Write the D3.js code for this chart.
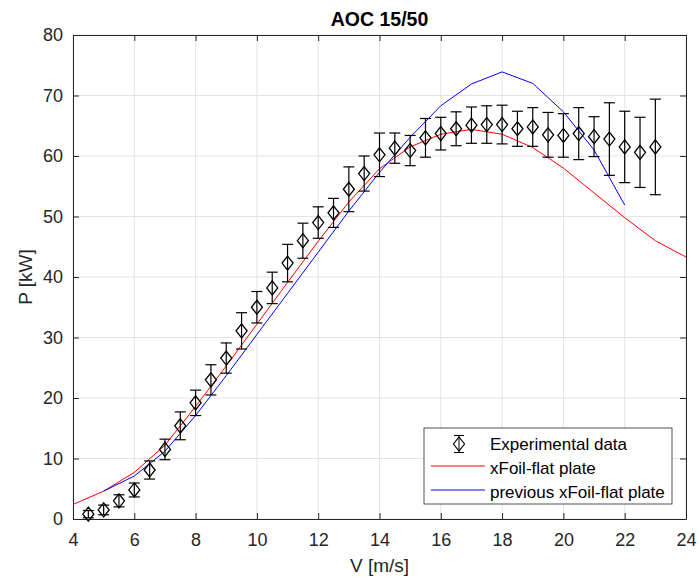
<!DOCTYPE html>
<html>
<head>
<meta charset="utf-8">
<script src="https://cdn.jsdelivr.net/npm/d3@7"></script>
<style>
  body { margin: 0; background: #fff; }
  svg { font-family: "Liberation Sans", Arial, sans-serif; }
  .axis text { fill: #262626; font-size: 18px; }
  .axis path, .axis line { stroke: #262626; }
</style>
</head>
<body>
<svg id="chart" width="699" height="578"></svg>
<script>
// experimental data
const expV = [4.5, 5, 5.5, 6, 6.5, 7, 7.5, 8, 8.5, 9, 9.5, 10, 10.5, 11, 11.5, 12, 12.5, 13, 13.5, 14,
              14.5, 15, 15.5, 16, 16.5, 17, 17.5, 18, 18.5, 19, 19.5, 20, 20.5, 21, 21.5, 22, 22.5, 23]
const expP = [0.8, 1.5, 3.0, 4.8, 8.1, 11.5, 15.4, 19.2, 23.0, 26.6, 31.1, 35.0, 38.2, 42.3, 46.0, 49.0, 50.6, 54.5, 57.1, 60.2,
              61.3, 60.9, 63.0, 63.7, 64.5, 65.1, 65.2, 65.2, 64.5, 64.8, 63.5, 63.4, 63.7, 63.2, 62.8, 61.5, 60.6, 61.5]
const expErr = [0.6, 0.8, 1.0, 1.15, 1.5, 1.7, 2.3, 2.1, 2.5, 2.5, 3.0, 2.6, 2.6, 3.1, 2.9, 2.6, 2.4, 3.7, 2.9, 3.6,
                2.5, 2.5, 3.2, 2.7, 2.8, 3.0, 3.1, 3.2, 2.9, 3.2, 3.7, 3.6, 4.3, 3.3, 6.0, 5.9, 5.8, 7.9]

// xFoil-flat plate
const xfoilV = [4, 5, 6, 7, 8, 9, 10, 11, 12, 13, 14, 15, 16, 17, 18, 19, 20, 21, 22, 23, 24]
const xfoilP = [2.4, 4.6, 7.7, 12.2, 18.6, 25.3, 32.2, 39.1, 45.9, 52.4, 57.9, 61.5, 63.6, 64.4, 63.6, 61.4, 58.0, 53.9, 49.8, 46.0, 43.3]

// previous xFoil-flat plate
const prevV = [5, 6, 7, 8, 9, 10, 11, 12, 13, 14, 15, 16, 17, 18, 19, 20, 21, 22]
const prevP = [4.6, 7.1, 11.2, 17.1, 23.7, 30.5, 37.3, 44.1, 50.9, 57.3, 63.1, 68.3, 71.9, 73.9, 72.0, 67.3, 61.0, 51.9]

const xTicks = [4, 6, 8, 10, 12, 14, 16, 18, 20, 22, 24]
const yTicks = [0, 10, 20, 30, 40, 50, 60, 70, 80]

const svg = d3.select('#chart')
const mLeft = 73, mRight = 686, mTop = 35, mBottom = 519

const x = d3.scaleLinear().domain([4, 24]).range([mLeft, mRight])
const y = d3.scaleLinear().domain([0, 80]).range([mBottom, mTop])

//grid
const grid = svg.append('g')
grid.selectAll('.gx').data(xTicks).join('line')
    .attr('x1', d => x(d)).attr('x2', d => x(d))
    .attr('y1', mTop).attr('y2', mBottom)
    .style('stroke', '#e3e3e3')
grid.selectAll('.gy').data(yTicks).join('line')
    .attr('x1', mLeft).attr('x2', mRight)
    .attr('y1', d => y(d)).attr('y2', d => y(d))
    .style('stroke', '#e3e3e3')

//axes (ticks point inward, box on)
svg.append('g').attr('class', 'axis')
    .attr('transform', `translate(0,${mBottom})`)
    .call(d3.axisBottom(x).tickValues(xTicks).tickSizeInner(-6).tickSizeOuter(0).tickPadding(14))
svg.append('g').attr('class', 'axis')
    .attr('transform', `translate(${mLeft},0)`)
    .call(d3.axisLeft(y).tickValues(yTicks).tickSizeInner(-6).tickSizeOuter(0).tickPadding(10))
svg.append('g').attr('class', 'axis')
    .attr('transform', `translate(0,${mTop})`)
    .call(d3.axisTop(x).tickValues(xTicks).tickSizeInner(-6).tickSizeOuter(0).tickFormat(''))
svg.append('g').attr('class', 'axis')
    .attr('transform', `translate(${mRight},0)`)
    .call(d3.axisRight(y).tickValues(yTicks).tickSizeInner(-6).tickSizeOuter(0).tickFormat(''))

//lines
const line = (vs, ps) => d3.line().x((d, i) => x(vs[i])).y((d, i) => y(ps[i]))(ps)

const plot = svg.append('g')
plot.append('path').attr('d', line(xfoilV, xfoilP))
    .style('fill', 'none').style('stroke', '#ff0000').style('stroke-width', 1)
plot.append('path').attr('d', line(prevV, prevP))
    .style('fill', 'none').style('stroke', '#0000ff').style('stroke-width', 1)

//error bars + diamonds
const cap = 5.5
const eb = plot.selectAll('.eb').data(expV).join('g')
eb.append('line')
    .attr('x1', d => x(d)).attr('x2', d => x(d))
    .attr('y1', (d, i) => y(expP[i] - expErr[i])).attr('y2', (d, i) => y(expP[i] + expErr[i]))
    .style('stroke', '#000').style('stroke-width', 1.2)
eb.append('line')
    .attr('x1', d => x(d) - cap).attr('x2', d => x(d) + cap)
    .attr('y1', (d, i) => y(expP[i] + expErr[i])).attr('y2', (d, i) => y(expP[i] + expErr[i]))
    .style('stroke', '#000').style('stroke-width', 1.2)
eb.append('line')
    .attr('x1', d => x(d) - cap).attr('x2', d => x(d) + cap)
    .attr('y1', (d, i) => y(expP[i] - expErr[i])).attr('y2', (d, i) => y(expP[i] - expErr[i]))
    .style('stroke', '#000').style('stroke-width', 1.2)

const diamond = (cx, cy) => `M${cx},${cy - 7}L${cx + 5.5},${cy}L${cx},${cy + 7}L${cx - 5.5},${cy}Z`
eb.append('path')
    .attr('d', (d, i) => diamond(x(d), y(expP[i])))
    .style('fill', 'none').style('stroke', '#000').style('stroke-width', 1.3)

//title and labels
svg.append('text').attr('x', (mLeft + mRight) / 2).attr('y', 26)
    .attr('text-anchor', 'middle').style('font-weight', 'bold').style('font-size', '19.5px')
    .style('fill', '#000').text('AOC 15/50')
svg.append('text').attr('x', (mLeft + mRight) / 2).attr('y', 572)
    .attr('text-anchor', 'middle').style('font-size', '19px').style('fill', '#262626')
    .text('V [m/s]')
svg.append('text').attr('transform', `translate(32,${(mTop + mBottom) / 2}) rotate(-90)`)
    .attr('text-anchor', 'middle').style('font-size', '19px').style('fill', '#262626')
    .text('P [kW]')

//legend
const lg = svg.append('g').attr('transform', 'translate(424,428)')
lg.append('rect').attr('width', 248).attr('height', 76)
    .style('fill', '#fff').style('stroke', '#262626').style('stroke-width', 0.8)
const ex = 35, ey = 16
lg.append('line').attr('x1', ex).attr('x2', ex).attr('y1', ey - 8.5).attr('y2', ey + 8.5).style('stroke', '#000')
lg.append('line').attr('x1', ex - 5).attr('x2', ex + 5).attr('y1', ey - 8.5).attr('y2', ey - 8.5).style('stroke', '#000')
lg.append('line').attr('x1', ex - 5).attr('x2', ex + 5).attr('y1', ey + 8.5).attr('y2', ey + 8.5).style('stroke', '#000')
lg.append('path').attr('d', diamond(ex, ey)).style('fill', 'none').style('stroke', '#000').style('stroke-width', 1.2)
lg.append('line').attr('x1', 7).attr('x2', 61).attr('y1', 38).attr('y2', 38).style('stroke', '#ff0000')
lg.append('line').attr('x1', 7).attr('x2', 61).attr('y1', 62).attr('y2', 62).style('stroke', '#0000ff')
const legTexts = ['Experimental data', 'xFoil-flat plate', 'previous xFoil-flat plate']
lg.selectAll('.lt').data(legTexts).join('text')
    .attr('x', 66).attr('y', (d, i) => 21.5 + i * 24)
    .style('font-size', '17px').style('fill', '#000').text(d => d)
</script>
</body>
</html>
